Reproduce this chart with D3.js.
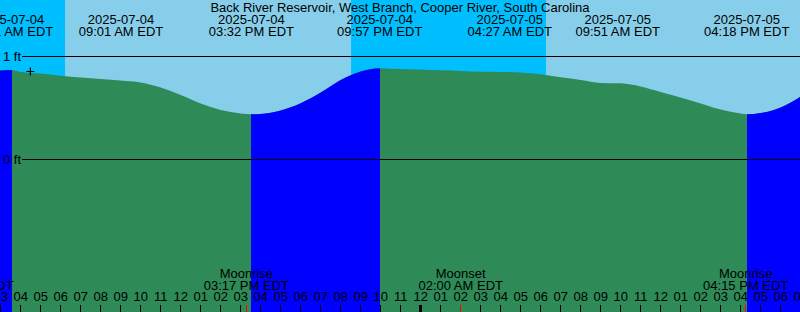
<!DOCTYPE html>
<html>
<head>
<meta charset="utf-8">
<script src="https://cdn.jsdelivr.net/npm/d3@7"></script>
<style>
  body { margin: 0; background: #fff; }
  svg { display: block; }
  text { font-family: "Liberation Sans", Arial, sans-serif; font-size: 13px; fill: #000; }
</style>
</head>
<body>
<svg id="chart" width="800" height="312"></svg>
<script>
// station
const title = "Back River Reservoir, West Branch, Cooper River, South Carolina";

// water level read every hour, in feet (07-04 02:00 .. 07-05 19:00)
const levelStart = "2025-07-04 02:00";
const levelFeet = [
  0.82, 0.864, 0.85, 0.835, 0.814, 0.796, 0.782, 0.767, 0.748, 0.699, 0.626,
  0.544, 0.481, 0.447, 0.442, 0.476, 0.546, 0.650, 0.772, 0.854, 0.885, 0.879,
  0.874, 0.866, 0.859, 0.852, 0.850, 0.845, 0.827, 0.798, 0.772, 0.743, 0.740,
  0.709, 0.655, 0.602, 0.544, 0.485, 0.447, 0.451, 0.505, 0.612
];

// tide events shown at the top
const tideTimes = ["2025-07-04 03:31", "2025-07-04 09:01", "2025-07-04 15:32", "2025-07-04 21:57",
                   "2025-07-05 04:27", "2025-07-05 09:51", "2025-07-05 16:18"];
const tideKinds = ["high", "", "low", "high", "", "", "low"];
const tideFeet = [0.87, 0.767, 0.439, 0.886, 0.85, 0.741, 0.439];

// sun and moon
const sunrise = ["2025-07-04 06:13", "2025-07-05 06:16"];
const sunset = ["2025-07-03 20:31", "2025-07-04 20:31", "2025-07-05 20:32"];
const moonTimes = ["2025-07-04 01:32", "2025-07-04 15:17", "2025-07-05 02:00", "2025-07-05 16:15"];
const moonKinds = ["Moonset", "Moonrise", "Moonset", "Moonrise"];

const nowTime = "2025-07-04 04:29";
const levelTicks = [0, 1];

const W = 800, H = 312;
const parse = d3.utcParse("%Y-%m-%d %H:%M");
const fmtDate = d3.utcFormat("%Y-%m-%d");
const fmtTime = d3.utcFormat("%I:%M %p EDT");

// 40 hours across the page, 03:00 sits just right of the left edge
const t0 = d3.utcSecond.offset(parse("2025-07-04 03:00"), -126);
const t1 = d3.utcHour.offset(t0, 40);
const x = d3.scaleTime().domain([t0, t1]).range([0, W]);
const y = d3.scaleLinear().domain([0, 1]).range([159.5, 56.5]);

const svg = d3.select("#chart");

// level points: hourly readings plus the highs and lows
let pts = levelFeet.map((v, i) => ({ t: d3.utcHour.offset(parse(levelStart), i), v }));
tideTimes.forEach((s, i) => { if (tideKinds[i]) pts.push({ t: parse(s), v: tideFeet[i] }); });
pts.sort((a, b) => a.t - b.t);

// sky
svg.append("rect").attr("width", W).attr("height", H).attr("fill", "#87ceeb");
const nights = sunset.map((s, i) => [parse(s), parse(sunrise[i] || "2025-07-06 06:17")]);
svg.selectAll(".night").data(nights).enter().append("rect")
  .attr("x", d => x(d[0])).attr("width", d => x(d[1]) - x(d[0]))
  .attr("y", 0).attr("height", H).attr("fill", "#00bfff");

// water
const area = d3.area().x(d => x(d.t)).y0(H).y1(d => y(d.v)).curve(d3.curveMonotoneX);
svg.append("path").datum(pts).attr("d", area).attr("fill", "#2e8b57");

// rising water (low -> high) in blue
const floods = [];
let from = t0;
tideTimes.forEach((s, i) => {
  if (tideKinds[i] === "low") from = parse(s);
  if (tideKinds[i] === "high" && from) { floods.push([from, parse(s)]); from = null; }
});
if (from) floods.push([from, t1]);
const clip = svg.append("clipPath").attr("id", "flood");
clip.selectAll("rect").data(floods).enter().append("rect")
  .attr("x", d => Math.round(x(d[0]))).attr("width", d => Math.ceil(x(d[1])) - Math.round(x(d[0])))
  .attr("y", 0).attr("height", H);
svg.append("path").datum(pts).attr("d", area).attr("fill", "#0000ff").attr("clip-path", "url(#flood)");

// level lines
svg.selectAll(".lvl").data(levelTicks).enter().append("line")
  .attr("x1", 22).attr("x2", W).attr("y1", d => y(d)).attr("y2", d => y(d))
  .attr("stroke", "#000").attr("stroke-width", 1);
svg.selectAll(".lvlLabel").data(levelTicks).enter().append("text")
  .attr("x", 3).attr("y", d => y(d) + 4.5).text(d => d + " ft");

// now mark
const nx = x(parse(nowTime)), ny = 71.5;
svg.append("path").attr("d", `M${nx - 4},${ny}H${nx + 4}M${nx},${ny - 4}V${ny + 4}`)
  .attr("stroke", "#000").attr("stroke-width", 1.2);

// title and tide events
svg.append("text").attr("x", W / 2).attr("y", 12).attr("text-anchor", "middle").text(title);
const ev = svg.selectAll(".ev").data(tideTimes).enter().append("g");
ev.append("text").attr("x", d => x(parse(d))).attr("y", 24).attr("text-anchor", "middle")
  .text(d => fmtDate(parse(d)));
ev.append("text").attr("x", d => x(parse(d))).attr("y", 36).attr("text-anchor", "middle")
  .text(d => fmtTime(parse(d)));

// moon events
const mo = svg.selectAll(".moon").data(moonTimes).enter().append("g");
mo.append("text").attr("x", d => x(parse(d))).attr("y", 278).attr("text-anchor", "middle")
  .text((d, i) => moonKinds[i]);
mo.append("text").attr("x", d => x(parse(d))).attr("y", 289.5).attr("text-anchor", "middle")
  .text(d => fmtTime(parse(d)));

// hour axis
const hours = d3.utcHour.range(d3.utcHour.offset(t0, -1), d3.utcHour.offset(t1, 2));
svg.selectAll(".hr").data(hours).enter().append("text")
  .attr("x", d => x(d)).attr("y", 301).attr("text-anchor", "middle")
  .text(d => d3.utcFormat("%I")(d));
svg.selectAll(".tick").data(hours).enter().append("line")
  .attr("x1", d => Math.floor(x(d)) + 0.5).attr("x2", d => Math.floor(x(d)) + 0.5)
  .attr("y1", 305).attr("y2", H)
  .attr("stroke", "#000").attr("stroke-width", d => d.getUTCHours() === 0 ? 3 : 1);
svg.selectAll(".mtick").data(moonTimes).enter().append("line")
  .attr("x1", d => Math.floor(x(parse(d))) + 0.5).attr("x2", d => Math.floor(x(parse(d))) + 0.5)
  .attr("y1", 305).attr("y2", H).attr("stroke", "#ff0000").attr("stroke-width", 1);
</script>
</body>
</html>
